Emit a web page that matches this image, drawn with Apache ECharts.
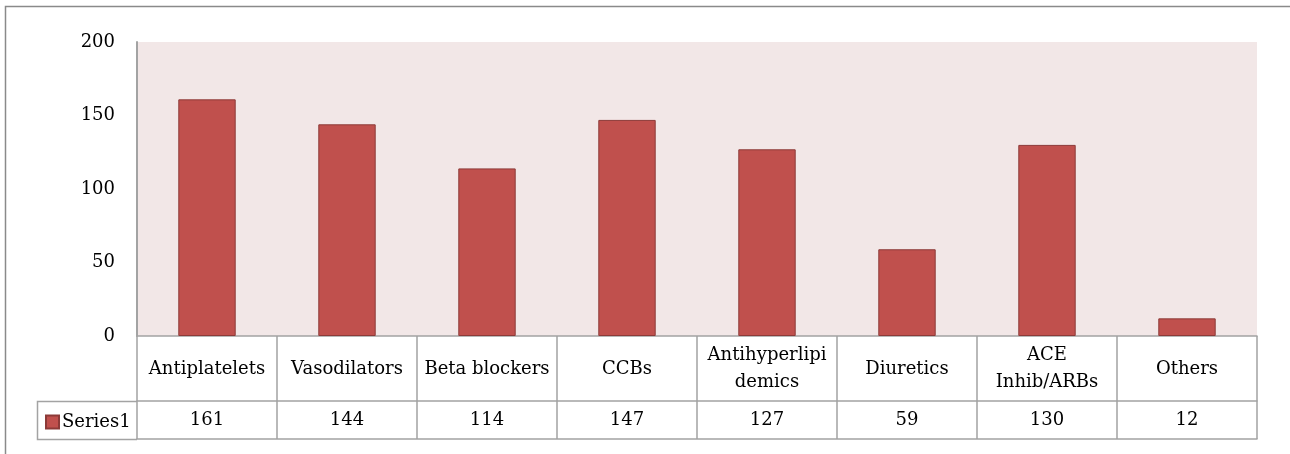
<!DOCTYPE html>
<html>
<head>
<meta charset="utf-8">
<script src="https://cdn.jsdelivr.net/npm/echarts@6/dist/echarts.min.js"></script>
<style>
  html, body { margin: 0; padding: 0; background: #fff; }
  #main { width: 1290px; height: 454px; }
</style>
</head>
<body>
<div id="main"></div>
<script>
var categories = ['Antiplatelets', 'Vasodilators', 'Beta blockers', 'CCBs',
  'Antihyperlipi\ndemics', 'Diuretics', 'ACE\nInhib/ARBs', 'Others'];
var values = [161, 144, 114, 147, 127, 59, 130, 12];
var seriesName = 'Series1';

var font = 'DejaVu Serif';
var lineColor = '#a3a3a3';
var textColor = '#000';

var chartDom = document.getElementById('main');
var myChart = echarts.init(chartDom);
var option;

option = {
  animation: false,
  textStyle: { fontFamily: font },
  graphic: [
    {
      type: 'polyline',
      shape: { points: [[5.5, 460], [5.5, 6.5], [1300, 6.5]] },
      style: { stroke: '#8a8a8a', lineWidth: 1.5, fill: null },
      silent: true
    },
    {
      // left cell of the data table (legend key)
      type: 'polyline',
      shape: { points: [[137, 401.5], [37.5, 401.5], [37.5, 439.5], [137, 439.5]] },
      style: { stroke: lineColor, lineWidth: 1.5, fill: null },
      silent: true
    }
  ],
  legend: {
    data: [seriesName],
    left: 40,
    top: 408,
    icon: 'rect',
    itemWidth: 13,
    itemHeight: 13,
    itemGap: 4,
    textStyle: { fontFamily: font, fontSize: 18, color: textColor, padding: [0, 0, 0, -2] }
  },
  grid: {
    left: 137,
    right: 33,
    top: 42,
    bottom: 118,
    show: true,
    borderWidth: 0,
    backgroundColor: '#f2e7e7'
  },
  xAxis: [
    {
      type: 'category',
      data: categories,
      position: 'bottom',
      axisLine: { show: true, lineStyle: { color: lineColor, width: 1.5 } },
      axisTick: { show: true, length: 103, lineStyle: { color: lineColor, width: 1.5 } },
      axisLabel: {
        interval: 0,
        margin: 33,
        verticalAlign: 'middle',
        color: textColor,
        fontFamily: font,
        fontSize: 18,
        lineHeight: 27
      }
    },
    {
      type: 'category',
      data: categories,
      position: 'bottom',
      offset: 65,
      axisLine: { show: true, lineStyle: { color: lineColor, width: 1.5 } },
      axisTick: { show: false },
      axisLabel: {
        interval: 0,
        margin: 19,
        verticalAlign: 'middle',
        color: textColor,
        fontFamily: font,
        fontSize: 18,
        formatter: function (v, i) { return String(values[i]); }
      }
    },
    {
      type: 'category',
      data: categories,
      position: 'bottom',
      offset: 103,
      axisLine: { show: true, lineStyle: { color: lineColor, width: 1.5 } },
      axisTick: { show: false },
      axisLabel: { show: false }
    }
  ],
  yAxis: {
    type: 'value',
    min: 0,
    max: 200,
    interval: 50,
    axisLine: { show: true, lineStyle: { color: lineColor, width: 2 } },
    axisTick: { show: false },
    splitLine: { show: false },
    axisLabel: {
      margin: 22,
      color: textColor,
      fontFamily: font,
      fontSize: 18
    }
  },
  series: [
    {
      name: seriesName,
      type: 'bar',
      data: values,
      barWidth: '41%',
      itemStyle: {
        color: '#c0504d',
        borderColor: '#8c3a38',
        borderWidth: 1
      }
    }
  ]
};

option && myChart.setOption(option);
</script>
</body>
</html>
